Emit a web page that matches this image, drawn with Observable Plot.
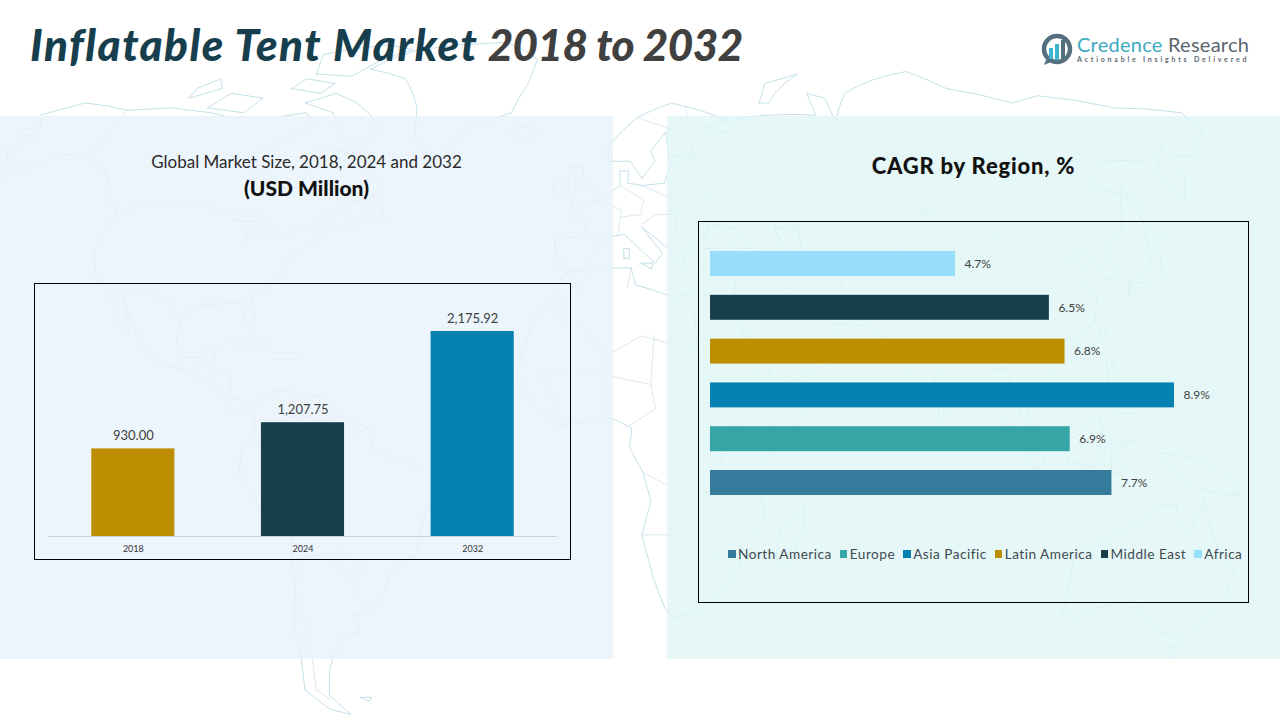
<!DOCTYPE html>
<html><head><meta charset="utf-8">
<script src="https://cdn.jsdelivr.net/npm/d3@7"></script>
<script src="https://cdn.jsdelivr.net/npm/@observablehq/plot@0.6"></script>
<style>
html,body{margin:0;padding:0;background:#fff}
#page{position:relative;width:1280px;height:720px;overflow:hidden;font-family:Lato,sans-serif}
#page>*{position:absolute}
#map{left:0;top:0}
.panel{top:116px;height:543px}
#pl{left:0;width:613px;background:rgba(232,243,251,.8)}
#pr{left:667px;width:613px;background:rgba(224,245,245,.8)}
#title{left:30px;top:17px;font-size:44px;font-weight:900;font-style:italic;white-space:nowrap;line-height:54px}
#title .a{color:#163e4d;letter-spacing:1.5px}#title .b{color:#404040;letter-spacing:-.55px}
.c{text-align:center;white-space:nowrap}
#sub1{left:0;width:613px;top:152px;font-size:17px;color:#2a2a2a;line-height:20px}
#sub2{left:0;width:613px;top:176px;font-size:21px;font-weight:900;color:#111;line-height:24px}
#sub3{left:667px;width:613px;top:152px;font-size:22px;font-weight:900;color:#111;line-height:28px;letter-spacing:.8px}
#c1{left:34px;top:283px}#c2{left:698px;top:221px}
#c1 svg,#c2 svg{outline:1.2px solid #000;outline-offset:-1px}
#legend{left:728px;top:545px;display:flex;font-size:13.6px;color:#3d4a50;white-space:nowrap;line-height:18px;letter-spacing:.5px}
#legend span.i{display:flex;align-items:center;margin-right:8px}
#legend i{display:inline-block;width:7.5px;height:7.5px;margin-right:2.5px}
#logo-t{left:1077px;top:31px;font-size:20px;line-height:26px;white-space:nowrap;letter-spacing:.25px}
#logo-s{left:1077px;top:54px;font-size:7px;font-weight:700;color:#5a6670;letter-spacing:2.8px;white-space:nowrap;line-height:10px}
#logo-i{left:1041px;top:33px}
</style></head><body><div id="page">
<div id="map"></div>
<div id="pl" class="panel"></div><div id="pr" class="panel"></div>
<div id="title"><span class="a">Inflatable Tent Market</span> <span class="b">2018 to 2032</span></div>
<svg id="logo-i" width="33" height="33" viewBox="0 0 33 33"><circle cx="16" cy="16" r="13" fill="none" stroke="#54707f" stroke-width="4.5"/><path d="M5 27 L3 32 L10 29Z" fill="#54707f"/><rect x="8" y="15" width="4" height="11" fill="#3fb4d0"/><rect x="14" y="11" width="4" height="16" fill="#3fb4d0"/><rect x="20" y="7" width="4" height="20" fill="#54707f"/></svg>
<div id="logo-t"><span style="color:#3ea9c0">Credence</span> <span style="color:#5a6670">Research</span></div>
<div id="logo-s">Actionable Insights Delivered</div>
<div id="sub1" class="c">Global Market Size, 2018, 2024 and 2032</div>
<div id="sub2" class="c">(USD Million)</div>
<div id="sub3" class="c">CAGR by Region, %</div>
<div id="c1"></div><div id="c2"></div>
<div id="legend"></div>
</div>
<script>
// ---- chart values ----
const years = ["2018", "2024", "2032"];
const marketSize = [930.00, 1207.75, 2175.92];
const yearColors = ["#bd8e02", "#183e4d", "#0581b2"];

const regions = ["North America", "Europe", "Asia Pacific", "Latin America", "Middle East", "Africa"];
const cagr = [7.7, 6.9, 8.9, 6.8, 6.5, 4.7];
const regionColors = ["#347b9c", "#35a5a5", "#0581b2", "#bd8e02", "#183e4d", "#98dffb"];

// ---- faint background world map, lon/lat ----
const northAmerica = [[-165,54.5],[-158,56.5],[-152,59],[-149,60.5],[-141,60],[-135,58],[-130,54.5],[-127,51],[-123,48.5],[-124,44],[-124,40],[-120.5,34.5],[-117,32.5],[-114,29],[-110,23],[-109,25],[-113,31],[-109,26],[-105.5,20.5],[-100,17],[-94,16],[-91,14],[-87,13],[-85,10.5],[-83,8],[-80,7.5],[-78,8.5],[-80,9.5],[-83.5,10.5],[-83.5,15],[-88,15.8],[-88,21],[-90.5,21],[-91,18.5],[-95,18.5],[-97.5,22],[-97.5,27],[-94,29.5],[-89.5,29.5],[-84,30],[-82.5,27],[-81,25],[-80,27],[-81.5,31],[-76,35],[-74,40],[-70,42],[-67,45],[-64,45],[-61,46],[-65,49],[-70,47],[-65,50],[-58,51.5],[-56,53],[-61,57],[-65,60],[-70,61],[-78,62.5],[-77.5,57],[-79,52],[-82,52.5],[-85,55.5],[-92,57],[-94,61],[-87,64],[-82,67],[-86,69],[-95,68],[-108,68],[-115,69],[-128,70],[-141,69.5],[-156,71],[-166,68.5],[-162,66],[-168,65.5],[-161,63.5],[-165,61],[-162,58.5],[-158,58],[-165,54.5]];
const southAmerica = [[-78,8.5],[-75,11],[-72,12],[-68,11],[-62,10.5],[-57,6],[-51,4],[-50,0],[-44,-2.5],[-37,-5],[-35,-8],[-39,-15],[-41,-22],[-48,-26],[-49,-29],[-53,-34],[-58,-34.5],[-57,-38],[-62,-39],[-65,-43],[-67,-46],[-69,-51],[-65,-55],[-70,-54],[-75,-50],[-73,-42],[-73,-37],[-71,-30],[-70,-18],[-76,-14],[-81,-5],[-80,0],[-77,4],[-78,8.5]];
const africa = [[-6,36],[3,37],[10,37],[11,33.5],[15,32.5],[20,31],[25,32],[32,31],[34,28],[37,21],[39,15],[43,12],[51,12],[48,5],[41,-2],[39,-7],[40.5,-15],[35,-20],[35.5,-24],[32,-29],[27,-34],[20,-35],[18,-33],[15,-27],[12,-18],[14,-11],[12,-5],[9,0],[9.5,4],[5,6],[-4,5],[-8,4.5],[-13,8.5],[-17,14.5],[-16,20],[-13,27],[-10,30],[-6,36]];
const eurasia = [[-6,36],[-9,37],[-9,43],[-2,43.5],[-1,46],[-5,48],[2,51],[8,54],[8,57],[10.5,57],[10,54.5],[14,54],[20,54.5],[22,58],[29,60],[22,60],[22,65],[17,61],[18,59],[14,55.5],[11,59],[5,59],[5,62],[14,68],[25,71],[41,67.5],[33,66],[40,65],[44,68],[54,68.5],[68,68.5],[68,73],[73,72],[73,67],[80,73],[104,77.5],[113,74],[130,71],[140,72.5],[160,70],[179,69],[179,65],[170,60],[163,60],[162,56],[157,51],[156,57],[163,62],[155,59],[142,59],[135,54],[141,52],[135,44],[130,42],[128,39],[129,35.5],[126,34.5],[125,39],[121,40],[118,39],[122,37],[119,35],[122,31],[120,26],[114,22.5],[108,21.5],[106,19],[109,13],[105,9],[100,13.5],[100,9],[104,1.5],[100,5],[98,10],[97,16.5],[94,16],[92,22],[87,21],[80,15],[80,10],[77.5,8],[73,18],[70,21],[67,25],[57,25.5],[60,22],[55,17],[45,13],[43,13],[39,21],[35,28],[34.5,31],[36,36],[30,36.5],[26.5,38],[26.5,40],[29,41],[41,41],[37,45],[30.5,46],[28,42],[23,40],[23,37],[19.5,41],[13,45.5],[18,40],[16,38],[8.5,44],[3,43],[0,39],[-2,36.7],[-6,36]];
const australia = [[114,-22],[122,-18],[129,-15],[131,-12],[136,-12],[136,-15],[140,-17.5],[142,-11],[146,-19],[153,-26],[153,-31],[150,-37],[146,-39],[140,-38],[136,-35],[131,-31.5],[124,-33],[118,-35],[115,-34],[114,-22]];
const islands = [
 [[-73,78],[-60,76],[-53,70],[-51,64],[-43,60],[-38,65],[-24,69],[-20,75],[-18,80],[-30,83.5],[-60,82],[-73,78]],
 [[-80,73],[-72,71],[-62,66],[-66,62.5],[-73,64.5],[-78,69],[-88,71],[-80,73]],
 [[-117,70],[-105,69],[-102,72],[-113,73],[-117,70]],
 [[-90,77],[-78,76.5],[-62,82],[-72,83],[-92,81],[-90,77]],
 [[-125,72],[-117,74],[-120,76],[-125,74],[-125,72]],
 [[-95,74],[-85,73],[-82,75],[-92,76],[-95,74]],
 [[-24,65.5],[-18,66.3],[-14,65],[-18,63.5],[-22,64],[-24,65.5]],
 [[-61,-51.5],[-58,-51.5],[-59,-52.3],[-61,-51.5]],
 [[-85,22],[-80,23],[-75,20.5],[-78,20],[-85,22]],
 [[-74,19.5],[-69,19.5],[-69,18.2],[-74,18.2],[-74,19.5]],
 [[-59,47.5],[-53,47],[-56,51],[-59,47.5]],
 [[-5,50],[1,51],[1.5,53],[-2,56],[-2,58],[-6,58],[-3,54],[-5,52],[-5,50]],
 [[-10,52],[-6,52],[-6,55],[-10,54],[-10,52]],
 [[8.3,39],[9.7,39],[9.7,41],[8.3,41],[8.3,39]],
 [[12.5,38],[15.5,38],[15,36.8],[12.5,38]],
 [[49.5,-12],[50,-16],[47,-25],[44,-24],[44,-17],[49.5,-12]],
 [[52,71],[56,75],[68,77],[58,73],[55,71],[52,71]],
 [[130,31.5],[132,34],[136,34],[140,35],[141.5,39],[141,41.5],[145,43.5],[142,45.5],[140,42],[139,38],[136,36.5],[131,34],[130,31.5]],
 [[142,46],[143.5,50],[142.5,54],[142,50],[142,46]],
 [[121,25],[122,24],[120.8,22],[120,23.5],[121,25]],
 [[120.5,18],[122,18],[122,14],[125,11],[126,7],[122,7],[120,14],[120.5,18]],
 [[109,1],[113,3],[117,7],[119,1],[116,-4],[110,-3],[109,1]],
 [[95,5.5],[104,-2],[106,-6],[102,-4],[95,5.5]],
 [[105.5,-6.5],[114,-7],[114,-8.5],[106,-7.5],[105.5,-6.5]],
 [[120,1],[125,1.5],[121,-1],[123,-5],[120,-5.5],[120,1]],
 [[131,-1],[141,-2.5],[147,-6],[150,-10],[143,-9],[138,-8],[133,-4],[131,-1]],
 [[80,9.5],[82,7],[80.5,6],[80,9.5]],
 [[145,-41],[148,-41],[147,-43.5],[145,-41]],
 [[47,45],[53,46],[53,40],[54,37],[50,37],[49,41],[47,45]],
 [[-87.5,42],[-86,44],[-85,46],[-87.5,45],[-87.5,42]],
 [[-92,46.8],[-88,48.5],[-85,47.5],[-85,46.5],[-92,46.8]],
 [[-84,46],[-80,45],[-82,43],[-84,44],[-84,46]]
];
const borders = [
 [[-123,49],[-95,49],[-89,48],[-83,46],[-82,43],[-79,43],[-75,45],[-71,45],[-67,47],[-67,45]],
 [[-141,69.5],[-141,60]],[[-117,32.5],[-106,31.5],[-101,29.5],[-97.5,26]],
 [[-92,14.5],[-91,18]],[[-88,15.8],[-87,13]],
 [[-72,12],[-72,7],[-67,6],[-67,1],[-70,-4],[-74,-7],[-74,-11],[-69,-11],[-65,-10],[-60,-14],[-58,-18],[-58,-22],[-54,-25],[-57,-30],[-53,-34]],
 [[-70,-18],[-69,-23],[-71,-30],[-70,-40],[-72,-50],[-69,-52]],
 [[-67,6],[-60,8],[-60,5],[-57,2],[-51,4]],[[-80,0],[-75,0],[-70,-4]],[[-58,-22],[-63,-22],[-69,-23]],[[-69,-11],[-69,-18]],[[-63,-22],[-58,-27],[-54,-25]],
 [[-9,27],[-2,25],[4,19],[12,23],[25,20],[25,31.5]],[[25,22],[37,22]],[[24,20],[24,9],[34,10],[36,15]],
 [[4,19],[3,12],[3,6]],[[15,23],[14,13],[15,8],[9,4.5]],[[12,-5],[18,-8],[22,-11],[30,-8],[30,-1],[34,4],[41,4],[48,8]],[[34,4],[24,9]],
 [[12,-18],[24,-18],[30,-15],[40.5,-11]],[[20,-29],[20,-22],[30,-22],[32,-26]],[[-12,15],[3,15],[14,13]],[[-8,4.5],[-8,10],[-12,15]],[[9,33],[10,37]],[[-1,35],[-9,27]],
 [[-2,43.5],[3,42.5]],[[-9,42],[-7,37]],[[2,51],[8,49],[7,44]],[[8,54],[14,51],[13,48],[8,47.5]],[[14,54],[24,50],[22,48],[17,48],[13,46]],
 [[24,50],[32,52],[40,50],[37,45]],[[28,60],[32,52]],[[22,58],[28,56]],[[28,42],[22,44],[22,48]],[[29,70],[29,60]],[[14,68],[24,65.5],[22,65]],
 [[48,42],[47,50],[60,51],[70,55],[80,51],[87,49],[98,50],[107,50],[117,50],[125,53],[135,48],[131,43]],[[87,49],[96,43],[110,43],[117,47]],
 [[53,37],[61,36],[71,37],[74,39],[80,42],[87,49]],[[61,36],[61,30],[63,25]],[[74,34],[80,30],[88,27],[97,28],[98,24],[101,21],[107,22]],[[74,34],[71,28],[68,24]],
 [[36,36],[44,37],[48,30]],[[44,37],[48,39],[53,37]],[[41,41],[48,42]],[[35,29.5],[47,29.5]],[[43,17],[52,19],[55,22]],[[97,28],[94,22]],[[101,21],[99,16]],[[107,22],[105,15]],[[124,40],[130,42]]
];
const land = [northAmerica, southAmerica, africa, eurasia, australia, ...islands];

// ---- map ----
const stretched = (l, p) => [d3.geoNaturalEarth1Raw(l, p)[0], p * 0.972];
const mapProjection = d3.geoProjection(stretched).scale(286).translate([590, 447]);
document.getElementById("map").append(Plot.plot({
  width: 1280, height: 720, margin: 0,
  style: {background: "transparent"},
  projection: mapProjection,
  marks: [
    Plot.geo({type: "MultiLineString", coordinates: borders}, {stroke: "#cfe3ea", strokeWidth: 0.8, fill: "none"}),
    Plot.geo({type: "MultiLineString", coordinates: land}, {stroke: "#bcdce6", strokeWidth: 0.9, fill: "none"})
  ]
}));

// ---- market size bars ----
const sizeRows = years.map((year, i) => ({year, value: marketSize[i]}));
document.getElementById("c1").append(Plot.plot({
  width: 537, height: 277,
  marginLeft: 14, marginRight: 14, marginTop: 48, marginBottom: 24,
  style: {background: "transparent", fontFamily: "Lato, sans-serif", overflow: "visible"},
  x: {domain: years, paddingInner: 0.51, paddingOuter: 0.255, round: false, label: null},
  y: {domain: [0, 2175.92], axis: null},
  color: {domain: years, range: yearColors},
  marks: [
    Plot.barY(sizeRows, {x: "year", y: "value", fill: "year"}),
    Plot.ruleY([0], {stroke: "#c9d3da", strokeWidth: 1}),
    Plot.axisX({tickSize: 0, tickPadding: 9, fontSize: 9, color: "#333", label: null}),
    Plot.text(sizeRows, {x: "year", y: "value", text: d => d3.format(",.2f")(d.value), dy: -13, fontSize: 13, fill: "#404040"})
  ]
}));

// ---- CAGR bars ----
const cagrRows = regions.map((region, i) => ({region, value: cagr[i]}));
document.getElementById("c2").append(Plot.plot({
  width: 551, height: 382,
  marginLeft: 12, marginRight: 75, marginTop: 20.6, marginBottom: 98.6,
  style: {background: "transparent", fontFamily: "Lato, sans-serif", overflow: "visible"},
  x: {domain: [0, 8.9], axis: null},
  y: {domain: [...regions].reverse(), paddingInner: 0.43, paddingOuter: 0.215, round: false, axis: null},
  color: {domain: regions, range: regionColors},
  marks: [
    Plot.barX(cagrRows, {x: "value", y: "region", fill: "region"}),
    Plot.text(cagrRows, {x: "value", y: "region", text: d => d3.format(".1f")(d.value) + "%", dx: 9, textAnchor: "start", fontSize: 12, fill: "#404040"})
  ]
}));

// ---- legend ----
const legend = document.getElementById("legend");
regions.forEach((r, i) => {
  const s = document.createElement("span"); s.className = "i";
  const k = document.createElement("i"); k.style.background = regionColors[i];
  s.append(k, r); legend.append(s);
});
</script></body></html>
